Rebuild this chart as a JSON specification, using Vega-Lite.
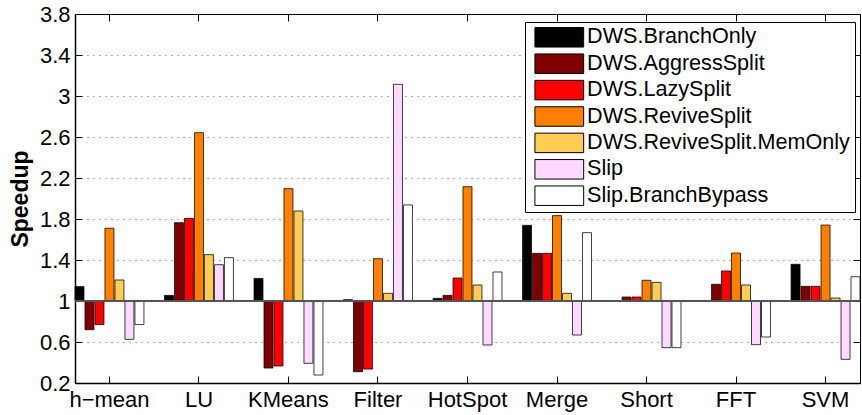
{
  "$schema": "https://vega.github.io/schema/vega-lite/v6.json",
  "width": 785,
  "height": 369,
  "autosize": {"type": "none"},
  "padding": {"left": 75, "top": 14, "right": 2, "bottom": 32},
  "background": "white",
  "config": {
    "font": "Liberation Sans",
    "view": {"stroke": "black", "strokeWidth": 1},
    "axis": {"domainColor": "black", "tickColor": "black", "labelColor": "black", "titleColor": "black", "labelFont": "Liberation Sans", "titleFont": "Liberation Sans"}
  },
  "data": {
    "values": [
      {"bench": "h−mean", "config": "DWS.BranchOnly", "speedup": 1.14},
      {"bench": "h−mean", "config": "DWS.AggressSplit", "speedup": 0.72},
      {"bench": "h−mean", "config": "DWS.LazySplit", "speedup": 0.77},
      {"bench": "h−mean", "config": "DWS.ReviveSplit", "speedup": 1.71},
      {"bench": "h−mean", "config": "DWS.ReviveSplit.MemOnly", "speedup": 1.205},
      {"bench": "h−mean", "config": "Slip", "speedup": 0.626},
      {"bench": "h−mean", "config": "Slip.BranchBypass", "speedup": 0.77},
      {"bench": "LU", "config": "DWS.BranchOnly", "speedup": 1.055},
      {"bench": "LU", "config": "DWS.AggressSplit", "speedup": 1.764},
      {"bench": "LU", "config": "DWS.LazySplit", "speedup": 1.806},
      {"bench": "LU", "config": "DWS.ReviveSplit", "speedup": 2.642},
      {"bench": "LU", "config": "DWS.ReviveSplit.MemOnly", "speedup": 1.452},
      {"bench": "LU", "config": "Slip", "speedup": 1.354},
      {"bench": "LU", "config": "Slip.BranchBypass", "speedup": 1.423},
      {"bench": "KMeans", "config": "DWS.BranchOnly", "speedup": 1.22},
      {"bench": "KMeans", "config": "DWS.AggressSplit", "speedup": 0.346},
      {"bench": "KMeans", "config": "DWS.LazySplit", "speedup": 0.366},
      {"bench": "KMeans", "config": "DWS.ReviveSplit", "speedup": 2.096},
      {"bench": "KMeans", "config": "DWS.ReviveSplit.MemOnly", "speedup": 1.878},
      {"bench": "KMeans", "config": "Slip", "speedup": 0.392},
      {"bench": "KMeans", "config": "Slip.BranchBypass", "speedup": 0.278},
      {"bench": "Filter", "config": "DWS.BranchOnly", "speedup": 1.013},
      {"bench": "Filter", "config": "DWS.AggressSplit", "speedup": 0.31},
      {"bench": "Filter", "config": "DWS.LazySplit", "speedup": 0.336},
      {"bench": "Filter", "config": "DWS.ReviveSplit", "speedup": 1.413},
      {"bench": "Filter", "config": "DWS.ReviveSplit.MemOnly", "speedup": 1.075},
      {"bench": "Filter", "config": "Slip", "speedup": 3.114},
      {"bench": "Filter", "config": "Slip.BranchBypass", "speedup": 1.937},
      {"bench": "HotSpot", "config": "DWS.BranchOnly", "speedup": 1.026},
      {"bench": "HotSpot", "config": "DWS.AggressSplit", "speedup": 1.055},
      {"bench": "HotSpot", "config": "DWS.LazySplit", "speedup": 1.224},
      {"bench": "HotSpot", "config": "DWS.ReviveSplit", "speedup": 2.115},
      {"bench": "HotSpot", "config": "DWS.ReviveSplit.MemOnly", "speedup": 1.156},
      {"bench": "HotSpot", "config": "Slip", "speedup": 0.571},
      {"bench": "HotSpot", "config": "Slip.BranchBypass", "speedup": 1.283},
      {"bench": "Merge", "config": "DWS.BranchOnly", "speedup": 1.738},
      {"bench": "Merge", "config": "DWS.AggressSplit", "speedup": 1.465},
      {"bench": "Merge", "config": "DWS.LazySplit", "speedup": 1.465},
      {"bench": "Merge", "config": "DWS.ReviveSplit", "speedup": 1.833},
      {"bench": "Merge", "config": "DWS.ReviveSplit.MemOnly", "speedup": 1.075},
      {"bench": "Merge", "config": "Slip", "speedup": 0.668},
      {"bench": "Merge", "config": "Slip.BranchBypass", "speedup": 1.667},
      {"bench": "Short", "config": "DWS.BranchOnly", "speedup": 1.003},
      {"bench": "Short", "config": "DWS.AggressSplit", "speedup": 1.039},
      {"bench": "Short", "config": "DWS.LazySplit", "speedup": 1.039},
      {"bench": "Short", "config": "DWS.ReviveSplit", "speedup": 1.202},
      {"bench": "Short", "config": "DWS.ReviveSplit.MemOnly", "speedup": 1.182},
      {"bench": "Short", "config": "Slip", "speedup": 0.545},
      {"bench": "Short", "config": "Slip.BranchBypass", "speedup": 0.545},
      {"bench": "FFT", "config": "DWS.BranchOnly", "speedup": 1.004},
      {"bench": "FFT", "config": "DWS.AggressSplit", "speedup": 1.163},
      {"bench": "FFT", "config": "DWS.LazySplit", "speedup": 1.293},
      {"bench": "FFT", "config": "DWS.ReviveSplit", "speedup": 1.468},
      {"bench": "FFT", "config": "DWS.ReviveSplit.MemOnly", "speedup": 1.156},
      {"bench": "FFT", "config": "Slip", "speedup": 0.574},
      {"bench": "FFT", "config": "Slip.BranchBypass", "speedup": 0.649},
      {"bench": "SVM", "config": "DWS.BranchOnly", "speedup": 1.358},
      {"bench": "SVM", "config": "DWS.AggressSplit", "speedup": 1.143},
      {"bench": "SVM", "config": "DWS.LazySplit", "speedup": 1.143},
      {"bench": "SVM", "config": "DWS.ReviveSplit", "speedup": 1.741},
      {"bench": "SVM", "config": "DWS.ReviveSplit.MemOnly", "speedup": 1.029},
      {"bench": "SVM", "config": "Slip", "speedup": 0.431},
      {"bench": "SVM", "config": "Slip.BranchBypass", "speedup": 1.237}
    ]
  },
  "layer": [
    {
      "mark": {"type": "bar", "stroke": "black", "strokeWidth": 1, "strokeOpacity": 0.75, "cornerRadius": 0},
      "encoding": {
        "x": {
          "field": "bench", "type": "nominal",
          "sort": ["h−mean", "LU", "KMeans", "Filter", "HotSpot", "Merge", "Short", "FFT", "SVM"],
          "scale": {"paddingInner": 0.23, "paddingOuter": 0},
          "axis": {"orient": "bottom", "title": null, "labelAngle": 0, "labelFontSize": 22, "tickSize": -7, "labelPadding": 13, "domainWidth": 1.5}
        },
        "xOffset": {
          "field": "config", "type": "nominal",
          "sort": ["DWS.BranchOnly", "DWS.AggressSplit", "DWS.LazySplit", "DWS.ReviveSplit", "DWS.ReviveSplit.MemOnly", "Slip", "Slip.BranchBypass"],
          "scale": {"paddingInner": 0.1}
        },
        "y": {
          "field": "speedup", "type": "quantitative",
          "scale": {"domain": [0.2, 3.8], "nice": false, "zero": false},
          "axis": {
            "values": [0.2, 0.6, 1, 1.4, 1.8, 2.2, 2.6, 3, 3.4, 3.8],
            "format": "~g",
            "grid": true, "gridDash": [1, 5], "gridColor": "#333", "gridOpacity": 0.8,
            "tickSize": -7, "labelPadding": 12, "labelFontSize": 22,
            "title": "Speedup", "titleFontSize": 23, "titleFontWeight": "bold", "titlePadding": 7,
            "domainWidth": 1.5
          }
        },
        "y2": {"datum": 1},
        "color": {
          "field": "config", "type": "nominal",
          "sort": ["DWS.BranchOnly", "DWS.AggressSplit", "DWS.LazySplit", "DWS.ReviveSplit", "DWS.ReviveSplit.MemOnly", "Slip", "Slip.BranchBypass"],
          "scale": {
            "domain": ["DWS.BranchOnly", "DWS.AggressSplit", "DWS.LazySplit", "DWS.ReviveSplit", "DWS.ReviveSplit.MemOnly", "Slip", "Slip.BranchBypass"],
            "range": ["#000000", "#7f0000", "#ff0000", "#ff8000", "#ffcc55", "#ffd9ff", "#ffffff"]
          },
          "legend": {
            "orient": "none", "legendX": 450, "legendY": 8,
            "title": null,
            "fillColor": "white", "strokeColor": "black", "padding": 4.5,
            "symbolType": "M-2.5,-1H2.5V1H-2.5Z", "symbolSize": 380,
            "symbolStrokeColor": "black", "symbolStrokeWidth": 1, "symbolOpacity": 1,
            "symbolOffset": 19, "labelOffset": 17,
            "labelFontSize": 21.6, "labelColor": "black", "labelFont": "Liberation Sans",
            "rowPadding": 2.4, "labelLimit": 400
          }
        }
      }
    },
    {
      "mark": {"type": "rule", "color": "#555", "strokeWidth": 1},
      "encoding": {"y": {"datum": 1, "axis": null}}
    },
    {
      "mark": {"type": "tick", "opacity": 0},
      "encoding": {
        "x": {
          "field": "bench", "type": "nominal",
          "sort": ["h−mean", "LU", "KMeans", "Filter", "HotSpot", "Merge", "Short", "FFT", "SVM"],
          "axis": {"orient": "top", "title": null, "labels": false, "tickSize": -7, "domain": false}
        },
        "y": {
          "field": "speedup", "type": "quantitative",
          "axis": {"orient": "right", "title": null, "labels": false, "tickSize": -7, "grid": false, "domain": false, "values": [0.2, 0.6, 1, 1.4, 1.8, 2.2, 2.6, 3, 3.4, 3.8]}
        }
      }
    }
  ],
  "resolve": {"axis": {"x": "independent", "y": "independent"}}
}
